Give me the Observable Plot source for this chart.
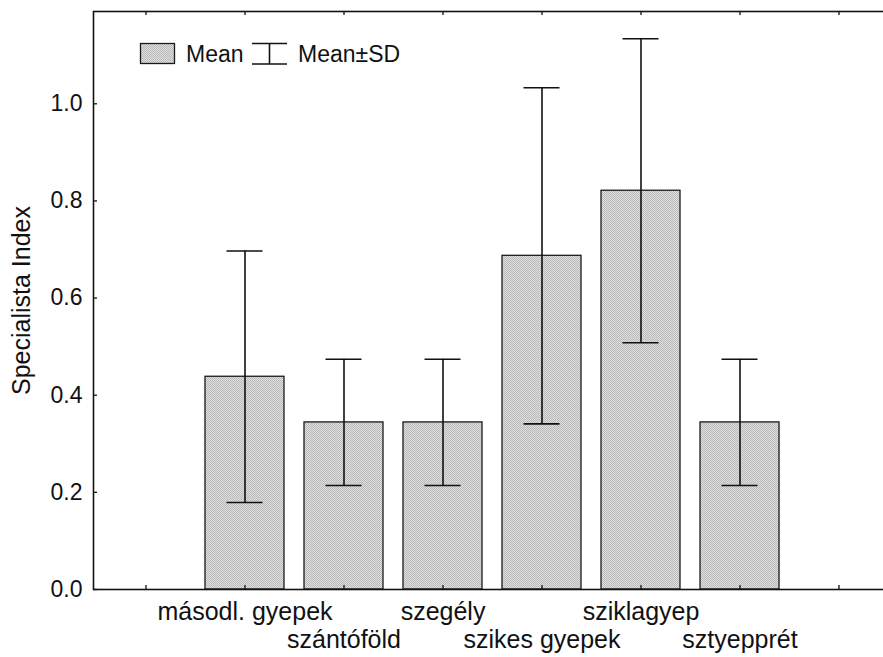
<!DOCTYPE html>
<html>
<head>
<meta charset="utf-8">
<script src="https://cdn.jsdelivr.net/npm/d3@7"></script>
<script src="https://cdn.jsdelivr.net/npm/@observablehq/plot@0.6"></script>
<style>
  html, body { margin: 0; padding: 0; background: #fff; }
  #wrap { position: relative; width: 883px; height: 657px; overflow: hidden; font-family: "Liberation Sans", Arial, sans-serif; }
  #legend { position: absolute; left: 0; top: 0; }
</style>
</head>
<body>
<div id="wrap"></div>
<script>
// Specialista Index by habitat type: mean with ±SD whiskers
const categories = ["másodl. gyepek", "szántóföld", "szegély", "szikes gyepek", "sziklagyep", "sztyepprét"];
const means = [0.438, 0.344, 0.344, 0.687, 0.821, 0.344];
const sds = [0.259, 0.130, 0.130, 0.346, 0.313, 0.130];
const yTicks = [0, 0.2, 0.4, 0.6, 0.8, 1.0];
const slots = ["·start", ...categories, "·end"]; // empty slots either side of the bars

const rows = categories.map((c, i) => ({cat: c, mean: means[i], lo: means[i] - sds[i], hi: means[i] + sds[i], row: i % 2}));

const W = 883, H = 657;
const mL = 93, mT = 11, mB = 68;
const yTop = 1.19;
const tickLen = 4;
const font = "Liberation Sans, Arial, sans-serif";

const chart = Plot.plot({
  width: W,
  height: H,
  marginLeft: mL,
  marginRight: -3,
  marginTop: mT,
  marginBottom: mB,
  style: {fontFamily: font, fontSize: "23px", color: "#111", background: "white", overflow: "hidden"},
  x: {domain: slots, range: [94.4, 888.8], paddingInner: 0.2, paddingOuter: 0.1, axis: null},
  y: {domain: [0, yTop], axis: null},
  marks: [
    // bars
    Plot.barY(rows, {x: "cat", y: "mean", fill: "url(#dither)", stroke: "#1a1a1a", strokeWidth: 1.3}),
    // ±SD whiskers
    Plot.ruleX(rows, {x: "cat", y1: "lo", y2: "hi", stroke: "#111", strokeWidth: 1.6}),
    Plot.tickY(rows, {x: "cat", y: "hi", stroke: "#111", strokeWidth: 1.6, insetLeft: 21.5, insetRight: 21.5}),
    Plot.tickY(rows, {x: "cat", y: "lo", stroke: "#111", strokeWidth: 1.6, insetLeft: 21.5, insetRight: 21.5}),
    // frame lines
    Plot.frame({stroke: "#111", strokeWidth: 1.6}),
    // inward ticks on left axis
    Plot.ruleY(yTicks, {y: d => d, stroke: "#111", strokeWidth: 1.3, insetRight: (W + 3 - mL) - tickLen}),
    // inward ticks at bottom and top
    Plot.ruleX(slots, {x: d => d, stroke: "#111", strokeWidth: 1.3, insetTop: (H - mT - mB) - tickLen}),
    Plot.ruleX(slots, {x: d => d, stroke: "#111", strokeWidth: 1.3, insetBottom: (H - mT - mB) - tickLen}),
    // y tick labels
    Plot.text(yTicks, {y: d => d, text: d => d.toFixed(1), frameAnchor: "left", textAnchor: "end", dx: -11, fontSize: 23, fill: "#111"}),
    // category labels, staggered on two rows
    Plot.text(rows, {x: "cat", y: 0, text: "cat", fontSize: 25, fill: "#111", lineAnchor: "middle",
      filter: d => d.row === 0, dy: 22}),
    Plot.text(rows, {x: "cat", y: 0, text: "cat", fontSize: 25, fill: "#111", lineAnchor: "middle",
      filter: d => d.row === 1, dy: 50}),
    // y axis title
    Plot.axisY({ticks: [], label: "Specialista Index", labelAnchor: "center", labelArrow: "none", labelOffset: 81, fontSize: 25, tickSize: 0})
  ]
});

// dithered grey fill for the bars
const ns = "http://www.w3.org/2000/svg";
const defs = document.createElementNS(ns, "defs");
defs.innerHTML = `
  <pattern id="dither" patternUnits="userSpaceOnUse" width="2" height="2">
    <rect width="2" height="2" fill="#dedede"/>
    <rect width="1" height="1" fill="#bababa"/>
    <rect x="1" y="1" width="1" height="1" fill="#bababa"/>
  </pattern>`;
chart.insertBefore(defs, chart.firstChild);

const wrap = document.getElementById("wrap");
wrap.appendChild(chart);

// legend inside the plot area
const legend = document.createElementNS(ns, "svg");
legend.setAttribute("id", "legend");
legend.setAttribute("width", 420);
legend.setAttribute("height", 90);
legend.innerHTML = `
  <rect x="140.5" y="43.5" width="34" height="20" fill="url(#dither)" stroke="#1a1a1a" stroke-width="1.3"/>
  <text x="186" y="62" font-family="${font}" font-size="23" fill="#111">Mean</text>
  <line x1="252" x2="287" y1="43.5" y2="43.5" stroke="#111" stroke-width="1.6"/>
  <line x1="252" x2="287" y1="64" y2="64" stroke="#111" stroke-width="1.6"/>
  <line x1="269.5" x2="269.5" y1="43.5" y2="64" stroke="#111" stroke-width="1.6"/>
  <text x="298" y="62" font-family="${font}" font-size="23" fill="#111">Mean±SD</text>`;
wrap.appendChild(legend);
</script>
</body>
</html>
